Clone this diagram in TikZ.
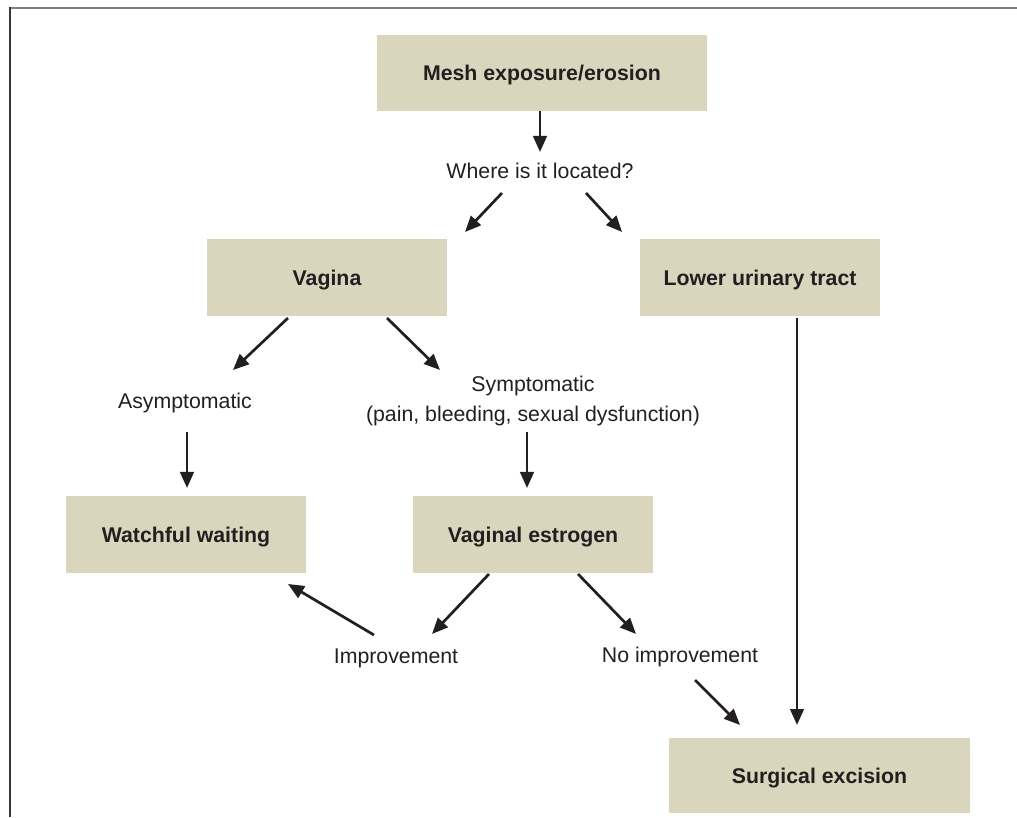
\documentclass[tikz,border=0pt]{standalone}
\usepackage{fontspec}
\setmainfont{Liberation Sans}
\usetikzlibrary{arrows.meta, positioning}
\definecolor{boxfill}{RGB}{218,214,189}
\definecolor{ink}{RGB}{35,31,32}

\begin{document}
\begin{tikzpicture}[x=1pt, y=1pt,
    >={Triangle[length=16pt, width=13.5pt]},
    box/.style={fill=boxfill, text=ink, minimum width=240pt, minimum height=77pt,
                text height=15pt, text depth=0pt,
                font=\fontsize{21.3}{30}\selectfont\bfseries},
    txt/.style={text=ink, align=center, font=\fontsize{21.3}{30}\selectfont},
    arrow/.style={->, draw=ink, line width=2.7pt}]
    \useasboundingbox (0,0) rectangle (1017,817);
    \draw[gray, line width=2pt]         (10,809) -- (1017,809);
    \draw[ink!90, line width=1.5pt]     (10,810) -- (10,0);

    \node[box, minimum width=330pt, minimum height=76pt] (Mesh)     at (542,744)    {Mesh exposure/erosion};
    \node[txt]                                           (Where)    at (540,646)    {Where is it located?};
    \node[box]                                           (Vagina)   at (327,539)    {Vagina};
    \node[box]                                           (Tract)    at (760,539)    {Lower urinary tract};
    \node[txt]                                           (Asym)     at (185,414)    {Asymptomatic};
    \node[txt]                                           (Sympt)    at (533,416)    {Symptomatic\\(pain, bleeding, sexual dysfunction)};
    \node[box]                                           (Waiting)  at (186,282)    {Watchful waiting};
    \node[box]                                           (Estrogen) at (533,282)    {Vaginal estrogen};
    \node[txt]                                           (Better)   at (396,159)    {Improvement};
    \node[txt]                                           (No Better) at (680,160)   {No improvement};
    \node[box, minimum width=301pt, minimum height=75pt] (Excision) at (819.5,41.5) {Surgical excision};

    \draw[arrow] ([shift={(-2,-38)}]Mesh.center)     -- ([shift={(0,19)}]Where.center);
    \draw[arrow] ([shift={(-38,-22)}]Where.center)   -- ([shift={(138,46)}]Vagina.center);
    \draw[arrow] ([shift={(46,-22)}]Where.center)    -- ([shift={(-138,46)}]Tract.center);
    \draw[arrow] ([shift={(-39,-40)}]Vagina.center)  -- ([shift={(48,33)}]Asym.center);
    \draw[arrow] ([shift={(60,-40)}]Vagina.center)   -- ([shift={(-93,31)}]Sympt.center);
    \draw[arrow] ([shift={(2,-29)}]Asym.center)      -- ([shift={(1,47)}]Waiting.center);
    \draw[arrow] ([shift={(-6,-31)}]Sympt.center)    -- ([shift={(-6,47)}]Estrogen.center);
    \draw[arrow] ([shift={(-44,-39)}]Estrogen.center) -- ([shift={(36,24)}]Better.center);
    \draw[arrow] ([shift={(45,-39)}]Estrogen.center) -- ([shift={(-44,23)}]No Better.center);
    \draw[arrow] ([shift={(-22,23)}]Better.center)   -- ([shift={(102,-49)}]Waiting.center);
    \draw[arrow] ([shift={(15,-23)}]No Better.center) -- ([shift={(-79.5,50.5)}]Excision.center);
    \draw[arrow] ([shift={(37,-40)}]Tract.center)    -- ([shift={(-22.5,50.5)}]Excision.center);
\end{tikzpicture}
\end{document}
